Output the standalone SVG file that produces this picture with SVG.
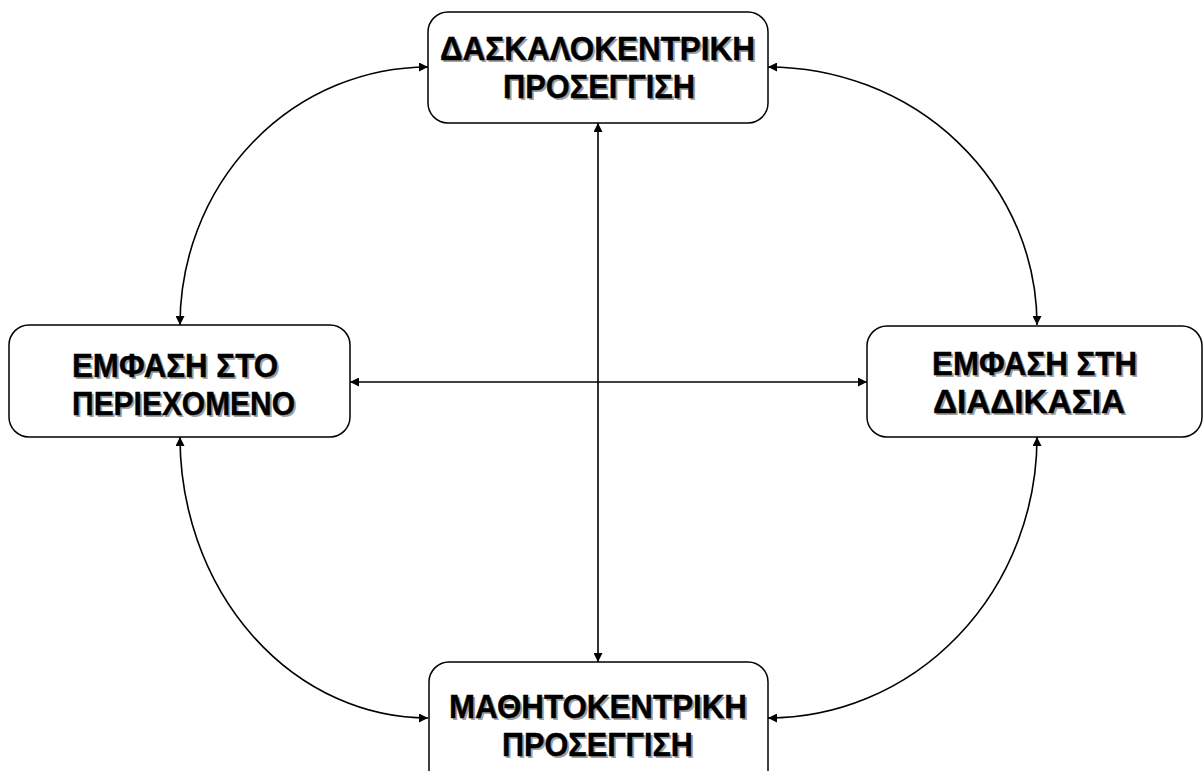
<svg xmlns="http://www.w3.org/2000/svg" width="1203" height="771" viewBox="0 0 1203 771">
  <style>
    .box { fill: #ffffff; stroke: #000000; stroke-width: 1.5; }
    .lbl { font-family: "Liberation Sans", Arial, sans-serif; font-weight: bold; font-size: 33px; fill: #000000; stroke: #000000; stroke-width: 0.4; }
    .shd { font-family: "Liberation Sans", Arial, sans-serif; font-weight: bold; font-size: 33px; fill: #a0a0a0; }
    .link { fill: none; stroke: #000000; stroke-width: 1.6; marker-start: url(#head); marker-end: url(#head); }
  </style>
  <defs>
    <marker id="head" viewBox="0 0 10 10" refX="10" refY="5" markerWidth="10" markerHeight="9" markerUnits="userSpaceOnUse" orient="auto-start-reverse">
      <path d="M0,0 L10,5 L0,10 z" fill="#000000"/>
    </marker>
  </defs>
  <rect width="1203" height="771" fill="#ffffff"/>

  <!-- connectors -->
  <g id="connectors">
    <line class="link" x1="598" y1="123" x2="598" y2="662"/>
    <line class="link" x1="350" y1="382" x2="867" y2="382"/>
    <path class="link" d="M180,325 A248,258 0 0 1 428,67"/>
    <path class="link" d="M768,67 A269,258 0 0 1 1037,325"/>
    <path class="link" d="M1037,437 A269,281 0 0 1 768,718"/>
    <path class="link" d="M428,718 A248,281 0 0 1 180,437"/>
  </g>

  <!-- teacher-centred approach -->
  <g id="node-top">
    <rect class="box" x="428" y="12" width="340" height="111" rx="20"/>
    <text class="shd" x="442" y="62" textLength="315" lengthAdjust="spacingAndGlyphs">ΔΑΣΚΑΛΟΚΕΝΤΡΙΚΗ</text>
    <text class="shd" x="505" y="100" textLength="192" lengthAdjust="spacingAndGlyphs">ΠΡΟΣΕΓΓΙΣΗ</text>
    <text class="lbl" x="440" y="60" textLength="315" lengthAdjust="spacingAndGlyphs">ΔΑΣΚΑΛΟΚΕΝΤΡΙΚΗ</text>
    <text class="lbl" x="503" y="98" textLength="192" lengthAdjust="spacingAndGlyphs">ΠΡΟΣΕΓΓΙΣΗ</text>
  </g>

  <!-- emphasis on content -->
  <g id="node-left">
    <rect class="box" x="9" y="325" width="341" height="112" rx="20"/>
    <text class="shd" x="74" y="379" textLength="206" lengthAdjust="spacingAndGlyphs">ΕΜΦΑΣΗ ΣΤΟ</text>
    <text class="shd" x="74" y="417" textLength="223" lengthAdjust="spacingAndGlyphs">ΠΕΡΙΕΧΟΜΕΝΟ</text>
    <text class="lbl" x="72" y="377" textLength="206" lengthAdjust="spacingAndGlyphs">ΕΜΦΑΣΗ ΣΤΟ</text>
    <text class="lbl" x="72" y="415" textLength="223" lengthAdjust="spacingAndGlyphs">ΠΕΡΙΕΧΟΜΕΝΟ</text>
  </g>

  <!-- emphasis on process -->
  <g id="node-right">
    <rect class="box" x="867" y="326" width="335" height="111" rx="20"/>
    <text class="shd" x="934" y="377" textLength="205" lengthAdjust="spacingAndGlyphs">ΕΜΦΑΣΗ ΣΤΗ</text>
    <text class="shd" x="935" y="415" textLength="192" lengthAdjust="spacingAndGlyphs">ΔΙΑΔΙΚΑΣΙΑ</text>
    <text class="lbl" x="932" y="375" textLength="205" lengthAdjust="spacingAndGlyphs">ΕΜΦΑΣΗ ΣΤΗ</text>
    <text class="lbl" x="933" y="413" textLength="192" lengthAdjust="spacingAndGlyphs">ΔΙΑΔΙΚΑΣΙΑ</text>
  </g>

  <!-- learner-centred approach -->
  <g id="node-bottom">
    <rect class="box" x="429" y="662" width="339" height="130" rx="20"/>
    <text class="shd" x="451" y="720" textLength="298" lengthAdjust="spacingAndGlyphs">ΜΑΘΗΤΟΚΕΝΤΡΙΚΗ</text>
    <text class="shd" x="504" y="758" textLength="191" lengthAdjust="spacingAndGlyphs">ΠΡΟΣΕΓΓΙΣΗ</text>
    <text class="lbl" x="449" y="718" textLength="298" lengthAdjust="spacingAndGlyphs">ΜΑΘΗΤΟΚΕΝΤΡΙΚΗ</text>
    <text class="lbl" x="502" y="756" textLength="191" lengthAdjust="spacingAndGlyphs">ΠΡΟΣΕΓΓΙΣΗ</text>
  </g>
</svg>
